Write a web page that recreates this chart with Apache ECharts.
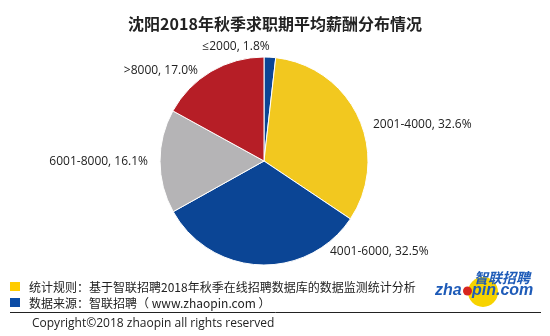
<!DOCTYPE html>
<html>
<head>
<meta charset="utf-8">
<script src="https://cdn.jsdelivr.net/npm/echarts@6/dist/echarts.min.js"></script>
<style>
  html, body { margin: 0; padding: 0; background: #fff; }
  #chart { width: 550px; height: 336px; }
</style>
</head>
<body>
<div id="chart"></div>
<script>
// Salary bands (monthly, RMB) and their share of job seekers, %
const bands = ['≤2000', '2001-4000', '4001-6000', '6001-8000', '>8000'];
const shares = [1.8, 32.6, 32.5, 16.1, 17.0];
const bandColors = ['#0B4595', '#F2C81F', '#0B4595', '#B5B4B6', '#B61E26'];

// Where each slice label sits (anchor x, y, text alignment)
const labelAnchors = [
  [236, 47, 'center'],
  [373, 125, 'left'],
  [330, 252, 'left'],
  [148, 162, 'right'],
  [198, 71, 'right']
];

const FONT = '"Noto Sans CJK SC", "Noto Sans", sans-serif';

const chart = echarts.init(document.getElementById('chart'), null, { renderer: 'canvas' });

chart.setOption({
  animation: false,
  backgroundColor: '#ffffff',
  title: {
    text: '沈阳2018年秋季求职期平均薪酬分布情况',
    left: 'center',
    top: 11,
    textStyle: { fontFamily: FONT, fontSize: 16, fontWeight: 'bold', color: '#222' }
  },
  series: [{
    type: 'pie',
    center: [264, 161],
    radius: 104,
    startAngle: 90,
    clockwise: true,
    data: bands.map((b, i) => ({
      name: b,
      value: shares[i],
      itemStyle: { color: bandColors[i] }
    })),
    itemStyle: { borderColor: '#fff', borderWidth: 1 },
    label: {
      show: true,
      position: 'outside',
      formatter: p => p.name + ', ' + p.value.toFixed(1) + '%',
      fontFamily: '"Open Sans", "Noto Sans", sans-serif',
      fontSize: 12,
      color: '#222'
    },
    labelLine: { show: false },
    labelLayout: p => {
      const a = labelAnchors[p.dataIndex];
      return { x: a[0], y: a[1], align: a[2], verticalAlign: 'middle' };
    },
    emphasis: { disabled: true }
  }],
  graphic: [
    { type: 'rect', shape: { x: 10, y: 282, width: 10, height: 9 }, style: { fill: '#FFCC00' } },
    { type: 'rect', shape: { x: 10, y: 298, width: 10, height: 9 }, style: { fill: '#0B4CA6' } },
    { type: 'text', x: 29, y: 287, style: { text: '统计规则：基于智联招聘2018年秋季在线招聘数据库的数据监测统计分析', font: '12px ' + FONT, fill: '#222', verticalAlign: 'middle' } },
    { type: 'text', x: 29, y: 303, style: { text: '数据来源：智联招聘（ www.zhaopin.com ）', font: '12px ' + FONT, fill: '#222', verticalAlign: 'middle' } },
    { type: 'line', shape: { x1: 10, y1: 312.5, x2: 541, y2: 312.5 }, style: { stroke: '#222', lineWidth: 1 } },
    { type: 'text', x: 32, y: 324, style: { text: 'Copyright©2018 zhaopin all rights reserved', font: '12px "Open Sans", ' + FONT, fill: '#222', verticalAlign: 'middle' } },
    // logo
    { type: 'circle', shape: { cx: 483, cy: 292, r: 15 }, style: { fill: '#F7D300' } },
    { type: 'circle', shape: { cx: 467.5, cy: 291, r: 4.5 }, style: { fill: '#D8251E' } },
    { type: 'text', x: 474, y: 278, style: { text: '智联招聘', font: 'italic bold 14px ' + FONT, fill: '#1E5BB8', verticalAlign: 'middle' } },
    { type: 'text', x: 435, y: 291, style: { text: 'zha', font: 'italic bold 16px "Liberation Sans", sans-serif', fill: '#1E5BB8', verticalAlign: 'middle' } },
    { type: 'text', x: 472, y: 291, style: { text: 'pin.com', font: 'italic bold 16px "Liberation Sans", sans-serif', fill: '#1E5BB8', verticalAlign: 'middle' } }
  ]
});
</script>
</body>
</html>
